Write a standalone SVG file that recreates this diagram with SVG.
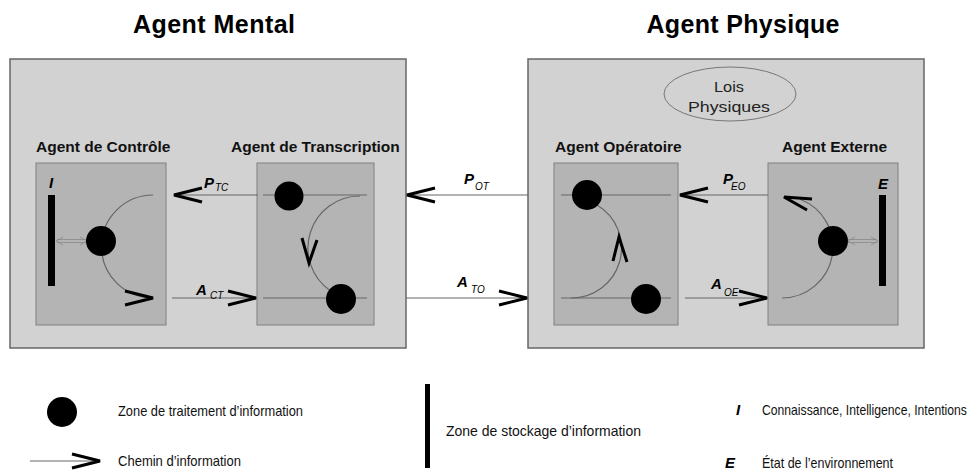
<svg xmlns="http://www.w3.org/2000/svg" width="977" height="470" viewBox="0 0 977 470">
<style>
.title{font-family:"Liberation Sans",Arial,sans-serif;font-weight:bold;font-size:25px;fill:#000}
.sub{font-family:"Liberation Sans",Arial,sans-serif;font-weight:bold;font-size:15.5px;fill:#111}
.outer{fill:#d2d2d2;stroke:#666;stroke-width:1.5}
.inner{fill:#b4b4b4;stroke:#808080;stroke-width:1}
.ln{fill:none;stroke:#666;stroke-width:1.2}
.cv{fill:none;stroke:#000;stroke-width:3}
.big{font-family:"Liberation Sans",Arial,sans-serif;font-weight:bold;font-style:italic;font-size:15px;fill:#000}
.sm{font-family:"Liberation Sans",Arial,sans-serif;font-style:italic;font-size:10px;fill:#000}
.leg{font-family:"Liberation Sans",Arial,sans-serif;font-size:14.5px;fill:#111}
.lois{font-family:"Liberation Sans",Arial,sans-serif;font-size:15px;fill:#222}
.bar{fill:#000}
.dbl{fill:none;stroke:#888;stroke-width:0.8}
</style>
<defs>
<marker id="ch" markerUnits="userSpaceOnUse" markerWidth="40" markerHeight="20" viewBox="0 0 40 20" refX="30" refY="10" orient="auto">
<path d="M2,3 L30,10 L2,17" fill="none" stroke="#000" stroke-width="3"/>
</marker>
</defs>

<g id="agent-mental">
<text class="title" x="214" y="33" text-anchor="middle" textLength="162">Agent Mental</text>
<rect class="outer" x="10" y="59" width="396" height="289"/>
</g>

<g id="agent-physique">
<text class="title" x="743" y="33" text-anchor="middle" textLength="193">Agent Physique</text>
<rect class="outer" x="528" y="59" width="396" height="289"/>
</g>

<g id="lois-physiques">
<ellipse cx="730" cy="94" rx="66" ry="27" fill="none" stroke="#777" stroke-width="1"/>
<text class="lois" x="729" y="92" text-anchor="middle" textLength="30" lengthAdjust="spacingAndGlyphs">Lois</text>
<text class="lois" x="729" y="112" text-anchor="middle" textLength="82" lengthAdjust="spacingAndGlyphs">Physiques</text>
</g>

<g id="agent-controle">
<text class="sub" x="36" y="152">Agent de Contrôle</text>
<rect class="inner" x="36" y="163" width="130" height="162"/>
<text class="big" x="49" y="188">I</text>
<rect class="bar" x="48" y="195" width="7" height="91"/>
<path class="ln" d="M153,195 A51.5,51.5 0 0 0 153,298" marker-end="url(#ch)"/>
<g class="dbl">
<path d="M57,239.5 H86 M57,242.5 H86"/>
<path d="M63,237 L56,241 L63,245 M80,237 L87,241 L80,245"/>
</g>
<circle cx="101" cy="241" r="15" fill="#000"/>
</g>

<g id="agent-transcription">
<text class="sub" x="231" y="152">Agent de Transcription</text>
<rect class="inner" x="257" y="163" width="117" height="162"/>
<path class="ln" d="M263,195 H367 M263,298 H367"/>
<path class="ln" d="M360,196 A52,52 0 0 0 330,290.5"/>
<path class="cv" d="M302,238 L309,263 L317,240"/>
<circle cx="289" cy="196" r="14.5" fill="#000"/>
<circle cx="341" cy="299" r="15" fill="#000"/>
</g>

<g id="agent-operatoire">
<text class="sub" x="555" y="152">Agent Opératoire</text>
<rect class="inner" x="554" y="163" width="124" height="162"/>
<path class="ln" d="M561,195 H671 M561,298 H671"/>
<path class="ln" d="M571,298 A50,50 0 0 0 597,205"/>
<path class="cv" d="M613,261 L619,237 L627,262"/>
<circle cx="587" cy="195" r="15" fill="#000"/>
<circle cx="646" cy="299" r="15" fill="#000"/>
</g>

<g id="agent-externe">
<text class="sub" x="782" y="152">Agent Externe</text>
<rect class="inner" x="768" y="163" width="130" height="162"/>
<text class="big" x="878" y="189">E</text>
<rect class="bar" x="879" y="195" width="7" height="91"/>
<path class="ln" d="M782,298 A51,51 0 0 0 800,199.3"/>
<path class="cv" d="M812,199 L784,197 L807,210"/>
<g class="dbl">
<path d="M848,239.5 H877 M848,242.5 H877"/>
<path d="M855,237 L848,241 L855,245 M871,237 L878,241 L871,245"/>
</g>
<circle cx="833" cy="241" r="15" fill="#000"/>
</g>

<g id="connectors">
<line class="ln" x1="258" y1="195" x2="174" y2="195" marker-end="url(#ch)"/>
<line class="ln" x1="172" y1="298" x2="256" y2="298" marker-end="url(#ch)"/>
<line class="ln" x1="528" y1="195" x2="407" y2="195" marker-end="url(#ch)"/>
<line class="ln" x1="406" y1="298" x2="527" y2="298" marker-end="url(#ch)"/>
<line class="ln" x1="768" y1="195" x2="680" y2="195" marker-end="url(#ch)"/>
<line class="ln" x1="685" y1="298" x2="767" y2="298" marker-end="url(#ch)"/>
<text class="big" x="204" y="188">P</text><text class="sm" x="215" y="191">TC</text>
<text class="big" x="196" y="295">A</text><text class="sm" x="210" y="299">CT</text>
<text class="big" x="464" y="184">P</text><text class="sm" x="475" y="190">OT</text>
<text class="big" x="457" y="287">A</text><text class="sm" x="471" y="293">TO</text>
<text class="big" x="723" y="184">P</text><text class="sm" x="731" y="190">EO</text>
<text class="big" x="711" y="289">A</text><text class="sm" x="724" y="296">OE</text>
</g>

<g id="legend">
<circle cx="62" cy="412" r="15" fill="#000"/>
<text class="leg" x="118" y="416" textLength="185" lengthAdjust="spacingAndGlyphs">Zone de traitement d’information</text>
<line class="ln" x1="30" y1="461" x2="100" y2="461" marker-end="url(#ch)"/>
<text class="leg" x="118" y="466" textLength="123" lengthAdjust="spacingAndGlyphs">Chemin d’information</text>
<rect class="bar" x="425" y="384" width="5" height="84"/>
<text class="leg" x="446" y="436" textLength="195" lengthAdjust="spacingAndGlyphs">Zone de stockage d’information</text>
<text class="big" x="736" y="415">I</text>
<text class="leg" transform="translate(762,415) scale(0.84,1)" x="0" y="0">Connaissance, Intelligence, Intentions</text>
<text class="big" x="725" y="468">E</text>
<text class="leg" x="762" y="468" textLength="131" lengthAdjust="spacingAndGlyphs">État de l’environnement</text>
</g>
</svg>
